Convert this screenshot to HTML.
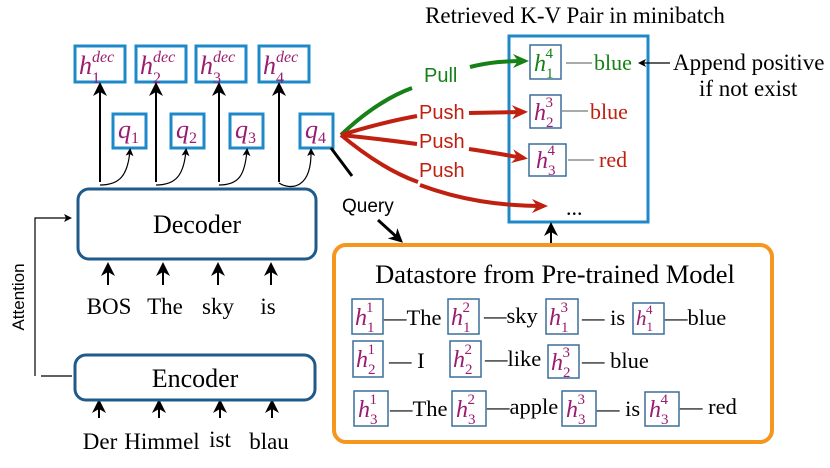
<!DOCTYPE html>
<html><head><meta charset="utf-8"><style>
html,body{margin:0;padding:0;background:#fff}
svg{display:block}
.s{font-family:"Liberation Serif",serif}
.a{font-family:"Liberation Sans",sans-serif}
.m{font-family:"Liberation Serif",serif;font-style:italic;fill:#9b1b6e}
.n{font-style:normal}
</style></head><body>
<svg width="830" height="468" viewBox="0 0 830 468" xmlns="http://www.w3.org/2000/svg">
<defs>
<marker id="ak" markerWidth="8" markerHeight="8" refX="6" refY="4" orient="auto" markerUnits="userSpaceOnUse"><path d="M0,0 L8,4 L0,8 L2,4z" fill="#000"/></marker>
<marker id="ak2" markerWidth="14" markerHeight="14" refX="10" refY="7" orient="auto" markerUnits="userSpaceOnUse"><path d="M0,0 L14,7 L0,14 L4,7z" fill="#000"/></marker>
<marker id="ar" markerWidth="16" markerHeight="16" refX="12" refY="8" orient="auto" markerUnits="userSpaceOnUse"><path d="M0,1 L16,8 L0,15 L5,8z" fill="#c02010"/></marker>
<marker id="ag" markerWidth="16" markerHeight="16" refX="12" refY="8" orient="auto" markerUnits="userSpaceOnUse"><path d="M0,1 L16,8 L0,15 L5,8z" fill="#178017"/></marker>
</defs>

<g fill="none" stroke="#1e88c8" stroke-width="3">
<rect x="75" y="46" width="50" height="36"/><rect x="136" y="46" width="50" height="36"/>
<rect x="196" y="46" width="50" height="36"/><rect x="259" y="46" width="50" height="36"/>
<rect x="113" y="114" width="33" height="34"/><rect x="171" y="114" width="33" height="34"/>
<rect x="230" y="114" width="33" height="34"/><rect x="300" y="114" width="33" height="34"/>
</g>
<g class="m" font-size="26">
<text x="79" y="74">h<tspan font-size="16" dy="9" class="n">1</tspan><tspan font-size="16" dx="-8" dy="-21">dec</tspan></text>
<text x="140" y="74">h<tspan font-size="16" dy="9" class="n">2</tspan><tspan font-size="16" dx="-8" dy="-21">dec</tspan></text>
<text x="200" y="74">h<tspan font-size="16" dy="9" class="n">3</tspan><tspan font-size="16" dx="-8" dy="-21">dec</tspan></text>
<text x="263" y="74">h<tspan font-size="16" dy="9" class="n">4</tspan><tspan font-size="16" dx="-8" dy="-21">dec</tspan></text>
<text x="118" y="138">q<tspan font-size="16" dy="5" class="n">1</tspan></text>
<text x="176" y="138">q<tspan font-size="16" dy="5" class="n">2</tspan></text>
<text x="235" y="138">q<tspan font-size="16" dy="5" class="n">3</tspan></text>
<text x="305" y="138">q<tspan font-size="16" dy="5" class="n">4</tspan></text>
</g>
<g stroke="#000" stroke-width="2" marker-end="url(#ak2)">
<line x1="100" y1="182" x2="100" y2="86"/><line x1="156" y1="182" x2="156" y2="86"/>
<line x1="219" y1="182" x2="219" y2="86"/><line x1="279" y1="182" x2="279" y2="86"/>
</g>
<g fill="none" stroke="#000" stroke-width="1.2" marker-end="url(#ak)">
<path d="M100,185 C120,185 128,175 130,150"/><path d="M156,185 C176,185 184,175 186,150"/>
<path d="M219,185 C239,185 245,175 247,150"/><path d="M279,183 C290,190 312,190 311,150"/>
</g>

<rect x="78" y="189" width="238" height="70" rx="11" fill="none" stroke="#1f5a8a" stroke-width="3"/>
<text x="197" y="233" class="s" font-size="26" text-anchor="middle">Decoder</text>
<g stroke="#000" stroke-width="2" marker-end="url(#ak2)">
<line x1="108" y1="285" x2="108" y2="266"/><line x1="163" y1="285" x2="163" y2="266"/>
<line x1="218" y1="285" x2="218" y2="266"/><line x1="271" y1="285" x2="271" y2="266"/>
<line x1="99" y1="418" x2="99" y2="403"/><line x1="159" y1="418" x2="159" y2="403"/>
<line x1="220" y1="418" x2="220" y2="403"/><line x1="272" y1="418" x2="272" y2="403"/>
</g>
<g class="s" font-size="23" text-anchor="middle">
<text x="109" y="314">BOS</text><text x="165" y="314">The</text><text x="218" y="314">sky</text><text x="268" y="314">is</text>
<text x="100" y="449">Der</text><text x="162" y="449">Himmel</text><text x="220" y="447">ist</text><text x="269" y="449">blau</text>
</g>
<rect x="75" y="355" width="240" height="45" rx="11" fill="none" stroke="#1f5a8a" stroke-width="3"/>
<text x="195" y="387" class="s" font-size="26" text-anchor="middle">Encoder</text>
<path d="M35,376 V218 H70" fill="none" stroke="#000" stroke-width="1.2" marker-end="url(#ak)"/>
<line x1="41" y1="376" x2="72" y2="376" stroke="#000" stroke-width="1.2"/>
<text transform="translate(24,297) rotate(-90)" class="a" font-size="17" text-anchor="middle">Attention</text>

<text x="575" y="23" class="s" font-size="23" text-anchor="middle">Retrieved K-V Pair in minibatch</text>
<rect x="509" y="36" width="139" height="186" fill="none" stroke="#1e88c8" stroke-width="3"/>
<g fill="none" stroke="#3a6e9a" stroke-width="1.5">
<rect x="530" y="45" width="31" height="34"/><rect x="530" y="95" width="31" height="33"/><rect x="529" y="144" width="37" height="32"/>
</g>
<text x="534" y="71" class="m" font-size="24" style="fill:#178017">h<tspan font-size="15" dy="7" class="n">1</tspan><tspan font-size="15" dx="-8" dy="-20" class="n">4</tspan></text>
<text x="534" y="120" class="m" font-size="24">h<tspan font-size="15" dy="7" class="n">2</tspan><tspan font-size="15" dx="-8" dy="-20" class="n">3</tspan></text>
<text x="536" y="168" class="m" font-size="24">h<tspan font-size="15" dy="7" class="n">3</tspan><tspan font-size="15" dx="-8" dy="-20" class="n">4</tspan></text>
<g stroke-width="1"><line x1="566" y1="63" x2="592" y2="63" stroke="#555"/><line x1="562" y1="111" x2="588" y2="111" stroke="#555"/><line x1="568" y1="160" x2="594" y2="160" stroke="#555"/></g>
<g class="s" font-size="22">
<text x="594" y="70" fill="#178017">blue</text>
<text x="590" y="119" fill="#c02010">blue</text>
<text x="599" y="167" fill="#c02010">red</text>
<text x="566" y="215" fill="#000">...</text>
</g>
<g class="s" font-size="23">
<text x="673" y="70">Append positive</text>
<text x="699" y="96">if not exist</text>
</g>
<line x1="670" y1="63" x2="640" y2="63" stroke="#000" stroke-width="1.2" marker-end="url(#ak)"/>

<path d="M341,135 C365,112 390,96 412,88" fill="none" stroke="#178017" stroke-width="4"/>
<path d="M470,67 C490,62 505,61 525,61" fill="none" stroke="#178017" stroke-width="4" marker-end="url(#ag)"/>
<g fill="none" stroke="#c02010" stroke-width="4">
<path d="M341,135 C370,126 395,120 417,116"/>
<path d="M341,135 C370,138 395,141 417,144"/>
<path d="M341,135 C365,155 390,172 418,182"/>
<path d="M469,113 L524,112" marker-end="url(#ar)"/>
<path d="M469,149 C490,152 505,155 524,158" marker-end="url(#ar)"/>
<path d="M420,185 C460,200 500,206 544,206" marker-end="url(#ar)"/>
</g>
<g class="a" font-size="20">
<text x="424" y="82" fill="#178017">Pull</text>
<text x="419" y="119" fill="#c02010">Push</text>
<text x="419" y="148" fill="#c02010">Push</text>
<text x="419" y="177" fill="#c02010">Push</text>
<text x="342" y="212" fill="#000" font-size="19">Query</text>
</g>
<line x1="331" y1="148" x2="352" y2="176" stroke="#000" stroke-width="3"/>
<line x1="378" y1="220" x2="400" y2="240" stroke="#000" stroke-width="3" marker-end="url(#ak2)"/>
<line x1="551" y1="244" x2="551" y2="226" stroke="#000" stroke-width="2" marker-end="url(#ak2)"/>

<rect x="334" y="245" width="438" height="197" rx="12" fill="none" stroke="#f5961e" stroke-width="4"/>
<text x="555" y="283" class="s" font-size="26.5" text-anchor="middle">Datastore from Pre-trained Model</text>
<g fill="none" stroke="#3a6e9a" stroke-width="1.5">
<rect x="352" y="299" width="31" height="35"/><rect x="448" y="299" width="31" height="35"/><rect x="546" y="299" width="32" height="35"/><rect x="633" y="303" width="31" height="31"/>
<rect x="353" y="341" width="30" height="36"/><rect x="450" y="341" width="31" height="36"/><rect x="548" y="345" width="31" height="33"/>
<rect x="354" y="391" width="34" height="35"/><rect x="452" y="391" width="34" height="35"/><rect x="562" y="391" width="34" height="35"/><rect x="645" y="392" width="34" height="34"/>
</g>
<g class="m" font-size="24">
<text x="355" y="325">h<tspan font-size="15" dy="7" class="n">1</tspan><tspan font-size="15" dx="-8" dy="-20" class="n">1</tspan></text>
<text x="451" y="325">h<tspan font-size="15" dy="7" class="n">1</tspan><tspan font-size="15" dx="-8" dy="-20" class="n">2</tspan></text>
<text x="549" y="325">h<tspan font-size="15" dy="7" class="n">1</tspan><tspan font-size="15" dx="-8" dy="-20" class="n">3</tspan></text>
<text x="636" y="325" font-size="21">h<tspan font-size="13" dy="6" class="n">1</tspan><tspan font-size="13" dx="-7" dy="-17" class="n">4</tspan></text>
<text x="356" y="367">h<tspan font-size="15" dy="7" class="n">2</tspan><tspan font-size="15" dx="-8" dy="-20" class="n">1</tspan></text>
<text x="453" y="367">h<tspan font-size="15" dy="7" class="n">2</tspan><tspan font-size="15" dx="-8" dy="-20" class="n">2</tspan></text>
<text x="551" y="370">h<tspan font-size="15" dy="7" class="n">2</tspan><tspan font-size="15" dx="-8" dy="-20" class="n">3</tspan></text>
<text x="358" y="417">h<tspan font-size="15" dy="7" class="n">3</tspan><tspan font-size="15" dx="-8" dy="-20" class="n">1</tspan></text>
<text x="456" y="417">h<tspan font-size="15" dy="7" class="n">3</tspan><tspan font-size="15" dx="-8" dy="-20" class="n">2</tspan></text>
<text x="566" y="417">h<tspan font-size="15" dy="7" class="n">3</tspan><tspan font-size="15" dx="-8" dy="-20" class="n">3</tspan></text>
<text x="649" y="417">h<tspan font-size="15" dy="7" class="n">3</tspan><tspan font-size="15" dx="-8" dy="-20" class="n">4</tspan></text>
</g>
<g class="s" font-size="22.5">
<text x="384" y="325">—The</text><text x="484" y="323">—sky</text><text x="582" y="325">— is</text><text x="665" y="325">—blue</text>
<text x="389" y="368">— I</text><text x="485" y="366">—like</text><text x="582" y="368">— blue</text>
<text x="390" y="416">—The</text><text x="487" y="414">—apple</text><text x="597" y="416">— is</text><text x="680" y="414">— red</text>
</g>
</svg>
</body></html>
